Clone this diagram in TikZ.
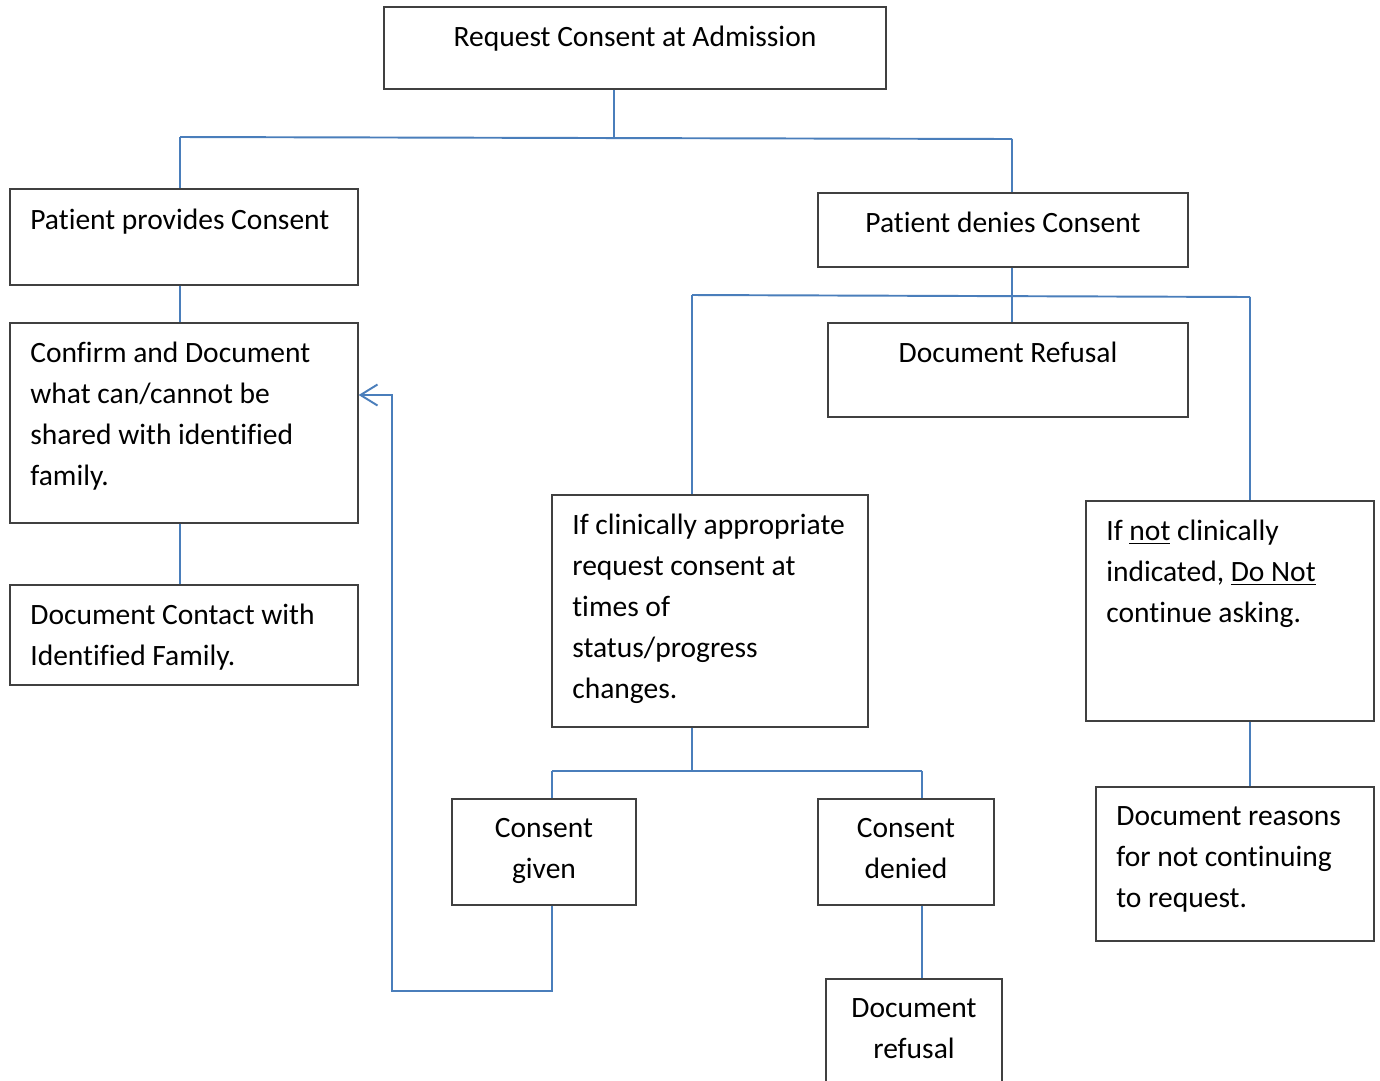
\documentclass[tikz,border=0pt]{standalone}
\usepackage{fontspec}
\setmainfont{Carlito}[Ligatures=NoCommon]
\usetikzlibrary{fit,arrows.meta}
\definecolor{boxgray}{HTML}{404040}
\definecolor{connblue}{HTML}{4A7EBB}
\begin{document}
\begin{tikzpicture}[x=0.02cm,y=-0.02cm,
  box/.style={draw=boxgray, line width=0.75pt, inner sep=0pt, fill=white},
  conn/.style={draw=connblue, line width=1.1pt},
  txt/.style={inner sep=0pt, anchor=north west, align=left, text=black,
    font=\fontsize{16.8}{23.3}\selectfont},
  ctxt/.style={txt, anchor=north, align=center}
]
\useasboundingbox (0,0) rectangle (1380,1080);
\clip (0,0) rectangle (1380,1080);
\fill[white] (0,0) rectangle (1380,1080);

% boxes
\node[box, fit={(384,7)(886,89)}] (adm) {};
\node[box, fit={(10,189)(358,285)}] (prov) {};
\node[box, fit={(818,193)(1188,267)}] (deny) {};
\node[box, fit={(10,323)(358,523)}] (confirm) {};
\node[box, fit={(10,585)(358,685)}] (contact) {};
\node[box, fit={(828,323)(1188,417)}] (refusal) {};
\node[box, fit={(552,495)(868,727)}] (clin) {};
\node[box, fit={(1086,501)(1374,721)}] (notclin) {};
\node[box, fit={(452,799)(636,905)}] (given) {};
\node[box, fit={(818,799)(994,905)}] (denied) {};
\node[box, fit={(826,979)(1002,1110)}] (docref) {};
\node[box, fit={(1096,787)(1374,941)}] (reasons) {};

% texts
\node[ctxt] (admT) at (635,26) {Request Consent at Admission};
\node[txt] (provT) at (30,209) {Patient provides Consent};
\node[ctxt] (denyT) at (1003,212) {Patient denies Consent};
\node[txt] (confirmT) at (30,342) {Confirm and Document\\what can/cannot be\\shared with identified\\family.};
\node[txt] (contactT) at (30,604) {Document Contact with\\Identified Family.};
\node[ctxt] (refusalT) at (1008,342) {Document Refusal};
\node[txt] (clinT) at (572,514) {If clinically appropriate\\request consent at\\times of\\status/progress\\changes.};
\node[txt] (notclinT) at (1106,520) {If \underline{not} clinically\\indicated, \underline{Do Not}\\continue asking.};
\node[ctxt] (givenT) at (544,818) {Consent\\given};
\node[ctxt] (deniedT) at (906,818) {Consent\\denied};
\node[ctxt] (docrefT) at (914,998) {Document\\refusal};
\node[txt] (reasonsT) at (1116,806) {Document reasons\\for not continuing\\to request.};

% connectors
\coordinate (hL) at (180,137);
\coordinate (hR) at (1012,139);
\coordinate (hM) at (614,137.5);
\draw[conn] (hM |- adm.south) -- (hM);
\draw[conn] (hL) -- (hR);
\draw[conn] (hL) -- (hL |- prov.north);
\draw[conn] (hR) -- (hR |- deny.north);
\draw[conn] (prov.south -| hL) -- (confirm.north -| hL);
\draw[conn] (confirm.south -| hL) -- (contact.north -| hL);

\coordinate (dL) at (692,295);
\coordinate (dR) at (1250,297);
\draw[conn] (deny.south -| hR) -- (refusal.north -| hR);
\draw[conn] (dL) -- (dR);
\draw[conn] (dL) -- (dL |- clin.north);
\draw[conn] (dR) -- (dR |- notclin.north);

\coordinate (cM) at (692,771);
\coordinate (cL) at (552,771);
\coordinate (cR) at (922,771);
\draw[conn] (clin.south -| cM) -- (cM);
\draw[conn] (cL) -- (cR);
\draw[conn] (cL) -- (cL |- given.north);
\draw[conn] (cR) -- (cR |- denied.north);
\draw[conn] (notclin.south -| dR) -- (reasons.north -| dR);
\draw[conn] (denied.south -| cR) -- (docref.north -| cR);

\coordinate (b1) at (552,991);
\coordinate (b2) at (392,991);
\coordinate (b3) at (392,395);
\draw[conn, -{Straight Barb[length=3.4mm,width=4.2mm]}] (given.south -| b1) -- (b1) -- (b2) -- (b3) -- (confirm.east |- b3);
\end{tikzpicture}
\end{document}
